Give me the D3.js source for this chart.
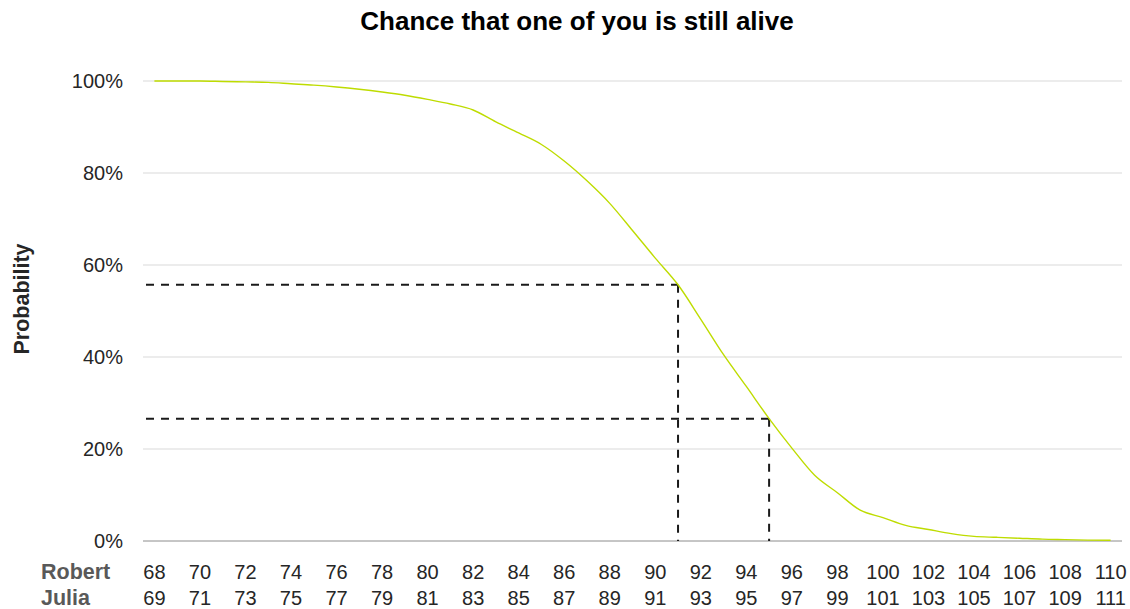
<!DOCTYPE html>
<html>
<head>
<meta charset="utf-8">
<script src="https://cdn.jsdelivr.net/npm/d3@7"></script>
<style>
  html, body { margin: 0; padding: 0; background: #ffffff; }
  svg { display: block; font-family: "Liberation Sans", Arial, sans-serif; }
</style>
</head>
<body>
<svg id="chart" width="1130" height="609"></svg>
<script>
// ---- data ----
const chartTitle = "Chance that one of you is still alive";
const yAxisTitle = "Probability";
const rowNames = ["Robert", "Julia"];
const robertAges = [68,69,70,71,72,73,74,75,76,77,78,79,80,81,82,83,84,85,86,87,88,89,90,91,92,93,94,95,96,97,98,99,100,101,102,103,104,105,106,107,108,109,110];
const probability = [1.000,1.000,1.000,0.999,0.998,0.997,0.994,0.991,0.987,0.982,0.976,0.969,0.960,0.950,0.937,0.911,0.887,0.862,0.826,0.783,0.734,0.675,0.615,0.557,0.482,0.405,0.336,0.266,0.202,0.143,0.105,0.067,0.051,0.034,0.025,0.016,0.010,0.008,0.006,0.004,0.003,0.002,0.0015];
const robertTickLabels = [68,70,72,74,76,78,80,82,84,86,88,90,92,94,96,98,100,102,104,106,108,110];
const juliaTickLabels  = [69,71,73,75,77,79,81,83,85,87,89,91,93,95,97,99,101,103,105,107,109,111];
const yTicks = [0, 0.2, 0.4, 0.6, 0.8, 1.0];
const markerAges = [91, 95];
const markerValues = [0.557, 0.266];

// ---- layout ----
const plot = { left: 143, right: 1122, top: 81, bottom: 541 };
const svg = d3.select("#chart");

const x = d3.scaleBand().domain(robertAges).range([plot.left, plot.right]).padding(0);
const cx = a => x(a) + x.bandwidth() / 2;
const y = d3.scaleLinear().domain([0, 1]).range([plot.bottom, plot.top]);

// title
svg.append("text")
  .attr("x", 577).attr("y", 30)
  .attr("text-anchor", "middle")
  .attr("font-size", 26).attr("font-weight", "bold").attr("fill", "#000")
  .text(chartTitle);

// y axis title
svg.append("text")
  .attr("transform", "translate(29,299) rotate(-90)")
  .attr("text-anchor", "middle")
  .attr("font-size", 21.5).attr("font-weight", "bold").attr("fill", "#262626")
  .text(yAxisTitle);

// gridlines
svg.append("g")
  .selectAll("line")
  .data(yTicks.filter(d => d > 0))
  .join("line")
  .attr("x1", plot.left).attr("x2", plot.right)
  .attr("y1", d => y(d)).attr("y2", d => y(d))
  .attr("stroke", "#d9d9d9").attr("stroke-width", 1);

// y axis
const yAxis = svg.append("g")
  .attr("transform", `translate(${plot.left},0)`)
  .call(d3.axisLeft(y).tickValues(yTicks).tickFormat(d3.format(".0%")).tickSize(0).tickPadding(20));
yAxis.select(".domain").remove();
yAxis.selectAll("text")
  .attr("font-size", 20).attr("fill", "#262626")
  .attr("font-family", "'Liberation Sans', Arial, sans-serif")
  .attr("dy", "0.3em");

// x axis baseline
svg.append("line")
  .attr("x1", plot.left).attr("x2", plot.right)
  .attr("y1", y(0)).attr("y2", y(0))
  .attr("stroke", "#8c8c8c").attr("stroke-width", 1);

// x axis rows (Robert / Julia)
const robertAxis = svg.append("g")
  .attr("transform", `translate(0,${plot.bottom})`)
  .call(d3.axisBottom(x).tickValues(robertTickLabels).tickSize(0).tickPadding(0));
robertAxis.select(".domain").remove();
robertAxis.selectAll("text")
  .attr("y", 38).attr("dy", null)
  .attr("font-size", 20).attr("fill", "#262626")
  .attr("font-family", "'Liberation Sans', Arial, sans-serif");

const juliaAxis = svg.append("g")
  .attr("transform", `translate(0,${plot.bottom})`)
  .call(d3.axisBottom(x).tickValues(robertTickLabels)
        .tickFormat((d, i) => juliaTickLabels[i]).tickSize(0).tickPadding(0));
juliaAxis.select(".domain").remove();
juliaAxis.selectAll("text")
  .attr("y", 64).attr("dy", null)
  .attr("font-size", 20).attr("fill", "#262626")
  .attr("font-family", "'Liberation Sans', Arial, sans-serif");

svg.append("g")
  .selectAll("text")
  .data(rowNames)
  .join("text")
  .attr("x", 41)
  .attr("y", (d, i) => plot.bottom + 38 + i * 26)
  .attr("font-size", 21.5).attr("font-weight", "bold").attr("fill", "#595959")
  .text(d => d);

// dashed marker lines
const markers = svg.append("g")
  .attr("stroke", "#1a1a1a").attr("stroke-width", 2).attr("stroke-dasharray", "8,7").attr("fill", "none");
markers.selectAll("line.h")
  .data(markerAges)
  .join("line").attr("class", "h")
  .attr("x1", plot.left + 3).attr("x2", d => cx(d))
  .attr("y1", (d, i) => y(markerValues[i])).attr("y2", (d, i) => y(markerValues[i]));
markers.selectAll("line.v")
  .data(markerAges)
  .join("line").attr("class", "v")
  .attr("x1", d => cx(d)).attr("x2", d => cx(d))
  .attr("y1", (d, i) => y(markerValues[i])).attr("y2", y(0));

// curve
const line = d3.line()
  .x((d, i) => cx(robertAges[i]))
  .y(d => y(d))
  .curve(d3.curveMonotoneX);
svg.append("path")
  .datum(probability)
  .attr("d", line)
  .attr("fill", "none")
  .attr("stroke", "#bedc00")
  .attr("stroke-width", 1.4);
</script>
</body>
</html>
